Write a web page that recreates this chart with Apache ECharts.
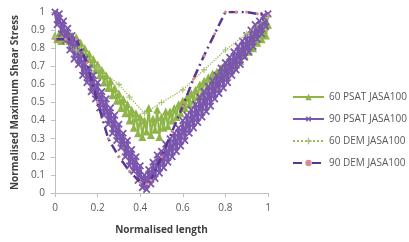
<!DOCTYPE html>
<html><head><meta charset="utf-8">
<script src="https://cdn.jsdelivr.net/npm/echarts@6/dist/echarts.min.js"></script>
<style>html,body{margin:0;padding:0;background:#fff}#c{width:409px;height:242px}</style>
</head><body><div id="c"></div>
<script>
var seriesNames = ['60 PSAT JASA100','90 PSAT JASA100','60 DEM JASA100','90 DEM JASA100'];
var yTicks = [0,0.1,0.2,0.3,0.4,0.5,0.6,0.7,0.8,0.9,1];
var xTicks = [0,0.2,0.4,0.6,0.8,1];

var psatX = [0,0.01,0.02,0.03,0.04,0.05,0.06,0.07,0.08,0.09,0.1,0.11,0.12,0.13,0.14,0.15,0.16,0.17,0.18,0.19,
  0.2,0.21,0.22,0.23,0.24,0.25,0.26,0.27,0.28,0.29,0.3,0.31,0.32,0.33,0.34,0.35,0.36,0.37,0.38,0.39,
  0.4,0.41,0.42,0.43,0.44,0.45,0.46,0.47,0.48,0.49,0.5,0.51,0.52,0.53,0.54,0.55,0.56,0.57,0.58,0.59,
  0.6,0.61,0.62,0.63,0.64,0.65,0.66,0.67,0.68,0.69,0.7,0.71,0.72,0.73,0.74,0.75,0.76,0.77,0.78,0.79,
  0.8,0.81,0.82,0.83,0.84,0.85,0.86,0.87,0.88,0.89,0.9,0.91,0.92,0.93,0.94,0.95,0.96,0.97,0.98,0.99,1];

var psat60 = [0.87,0.85,0.88,0.84,0.87,0.85,0.88,0.84,0.87,0.83,0.86,0.80,0.83,0.77,0.80,0.74,0.77,0.71,0.74,0.68,
  0.71,0.65,0.68,0.61,0.65,0.58,0.62,0.54,0.58,0.51,0.55,0.47,0.52,0.44,0.49,0.40,0.46,0.36,0.44,0.33,
  0.42,0.31,0.40,0.34,0.47,0.32,0.41,0.35,0.46,0.31,0.42,0.36,0.45,0.37,0.45,0.40,0.47,0.42,0.49,0.44,
  0.51,0.47,0.53,0.49,0.55,0.51,0.57,0.53,0.60,0.55,0.62,0.57,0.64,0.59,0.66,0.61,0.67,0.63,0.69,0.65,
  0.71,0.67,0.73,0.69,0.75,0.71,0.77,0.73,0.80,0.76,0.82,0.78,0.84,0.80,0.86,0.83,0.88,0.85,0.90,0.87,0.93];

var psat90 = [1.00,0.93,0.99,0.88,0.95,0.84,0.91,0.79,0.87,0.74,0.83,0.71,0.78,0.65,0.74,0.61,0.69,0.56,0.65,0.52,
  0.61,0.47,0.56,0.43,0.52,0.38,0.47,0.33,0.43,0.29,0.38,0.25,0.33,0.20,0.29,0.15,0.24,0.12,0.20,0.07,
  0.15,0.03,0.10,0.02,0.13,0.05,0.17,0.08,0.21,0.11,0.23,0.14,0.27,0.17,0.30,0.20,0.33,0.23,0.36,0.26,
  0.40,0.29,0.43,0.33,0.46,0.36,0.49,0.39,0.53,0.42,0.56,0.45,0.59,0.48,0.62,0.52,0.65,0.55,0.69,0.58,
  0.72,0.61,0.75,0.65,0.78,0.68,0.81,0.71,0.84,0.75,0.87,0.78,0.90,0.81,0.93,0.85,0.95,0.88,0.98,0.92,0.99];

var dem60X = [0,0.1,0.2,0.3,0.35,0.42,0.5,0.6,0.7,0.8,0.9,1];
var dem60 = [0.86,0.79,0.69,0.60,0.53,0.44,0.50,0.57,0.68,0.79,0.88,0.97];

var dem90X = [0,0.05,0.1,0.15,0.2,0.25,0.3,0.35,0.4,0.43,0.45,0.5,0.55,0.6,0.65,0.7,0.75,0.8,0.85,0.9,0.95,1];
var dem90 = [0.85,0.85,0.85,0.72,0.50,0.30,0.20,0.12,0.06,0.05,0.07,0.20,0.34,0.48,0.63,0.76,0.88,1.00,1.00,1.00,0.99,0.98];

function pairs(xs, ys){ return xs.map(function(x,i){ return [x, ys[i]]; }); }

var crossPath = 'path://M4,0h2v4h4v2h-4v4h-2v-4h-4v-2h4z';
var txt = '#595959';
var ff = '"Open Sans", "Liberation Sans", sans-serif';

var chart = echarts.init(document.getElementById('c'), null, {renderer:'canvas'});
chart.setOption({
  animation:false,
  backgroundColor:'#fff',
  grid:{left:55,right:141,top:12,bottom:49,containLabel:false},
  xAxis:{type:'value',min:0,max:1,interval:0.2,
    name:'Normalised length',nameLocation:'middle',nameGap:32,
    nameTextStyle:{color:'#404040',fontWeight:'bold',fontSize:10,fontFamily:ff},
    axisLine:{lineStyle:{color:'#bfbfbf'}},
    axisTick:{show:true,length:4,lineStyle:{color:'#bfbfbf'}},
    splitLine:{show:false},
    axisLabel:{color:txt,fontSize:10,fontFamily:ff,margin:10,
      formatter:function(v){ var i=xTicks.indexOf(Math.round(v*10)/10); return i>=0?String(xTicks[i]):''; }}
  },
  yAxis:{type:'value',min:0,max:1,interval:0.1,
    name:'Normalised Maximum Shear Stress',nameLocation:'middle',nameGap:35,nameRotate:90,
    nameTextStyle:{color:'#404040',fontWeight:'bold',fontSize:10,fontFamily:ff},
    axisLine:{show:true,lineStyle:{color:'#bfbfbf'}},
    axisTick:{show:true,length:4,lineStyle:{color:'#bfbfbf'}},
    splitLine:{show:false},
    axisLabel:{color:txt,fontSize:10,fontFamily:ff,margin:10,
      formatter:function(v){ var r=Math.round(v*10)/10; return yTicks.indexOf(r)>=0?String(r):''; }}
  },
  legend:{orient:'vertical',left:287,top:87,itemWidth:31,itemHeight:8,itemGap:12,
    textStyle:{color:txt,fontSize:10,fontFamily:ff},
    data:seriesNames},
  series:[
    {name:seriesNames[0],type:'line',data:pairs(psatX,psat60),
      lineStyle:{color:'#8fb447',width:2},itemStyle:{color:'#8fb447'},
      symbol:'triangle',symbolSize:8,showAllSymbol:true,z:2},
    {name:seriesNames[1],type:'line',data:pairs(psatX,psat90),
      lineStyle:{color:'#7a56ad',width:2.5},itemStyle:{color:'#7a56ad'},
      symbol:crossPath,symbolRotate:45,symbolSize:9,showAllSymbol:true,z:3},
    {name:seriesNames[2],type:'line',data:pairs(dem60X,dem60),
      lineStyle:{color:'#9bbb59',width:1.3,type:'dotted'},itemStyle:{color:'#a9c577'},
      symbol:crossPath,symbolSize:6,showAllSymbol:true,z:4},
    {name:seriesNames[3],type:'line',data:pairs(dem90X,dem90),
      lineStyle:{color:'#5b3594',width:2.5,type:[9,4,2,4]},itemStyle:{color:'#d48c95'},
      symbol:'circle',symbolSize:3,showAllSymbol:true,z:5}
  ]
});
</script></body></html>
